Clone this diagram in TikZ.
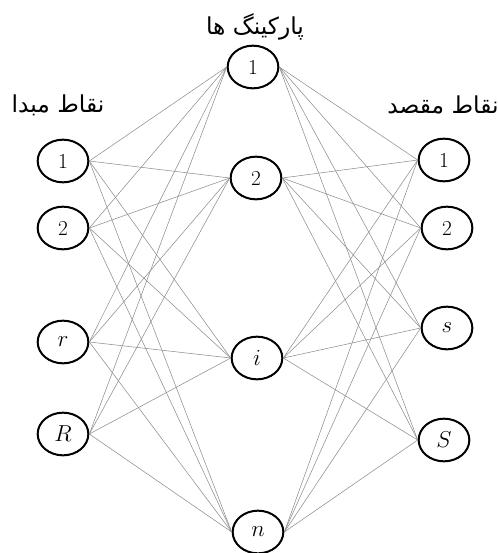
\documentclass[tikz,border=0pt]{standalone}
\usepackage{fontspec}
\newfontfamily\arabicfont[Script=Arabic]{DejaVu Sans}
\TeXXeTstate=1
\usetikzlibrary{shapes.geometric}
\tikzset{%
  stop/.style={draw, ellipse, line width=1.5pt, minimum width=38pt, minimum height=32pt, inner sep=0pt, font=\fontsize{16}{18}\selectfont},
  link/.style={draw, color=black!45, line width=0.4pt},
  title/.style={font=\arabicfont\fontsize{17.5}{20}\selectfont, inner sep=0pt},
}

\begin{document}
\begin{tikzpicture}[x=0.75pt, y=-0.75pt]
  \useasboundingbox (0,0) rectangle (497,553);

  % group titles
  \node (tp) [title] at (255,27) {\beginR پارکینگ ها\endR};
  \node (to) [title] at (58,105) {\beginR نقاط مبدا\endR};
  \node (td) [title] at (443,105) {\beginR نقاط مقصد\endR};

  % origins
  \node (o1) [stop] at (63,161) {1};
  \node (o2) [stop] at (63,228) {2};
  \node (or) [stop] at (63,342) {$r$};
  \node (oR) [stop] at (63,434) {$R$};
  % parkings
  \node (p1) [stop] at (253,67) {1};
  \node (p2) [stop] at (256,178) {2};
  \node (pi) [stop] at (257,358) {$i$};
  \node (pn) [stop] at (258,532) {$n$};
  % destinations
  \node (d1) [stop] at (444,160) {1};
  \node (d2) [stop] at (447,228) {2};
  \node (ds) [stop] at (447,328) {$s$};
  \node (dS) [stop] at (444,440) {$S$};

  \foreach \p in {p1,p2,pi,pn} {
    \foreach \o in {o1,o2,or,oR}
      \path [link] (\o.east) -- (\p.west);
    \foreach \d in {d1,d2,ds,dS}
      \path [link] (\p.east) -- (\d.west);
  }
\end{tikzpicture}
\end{document}
